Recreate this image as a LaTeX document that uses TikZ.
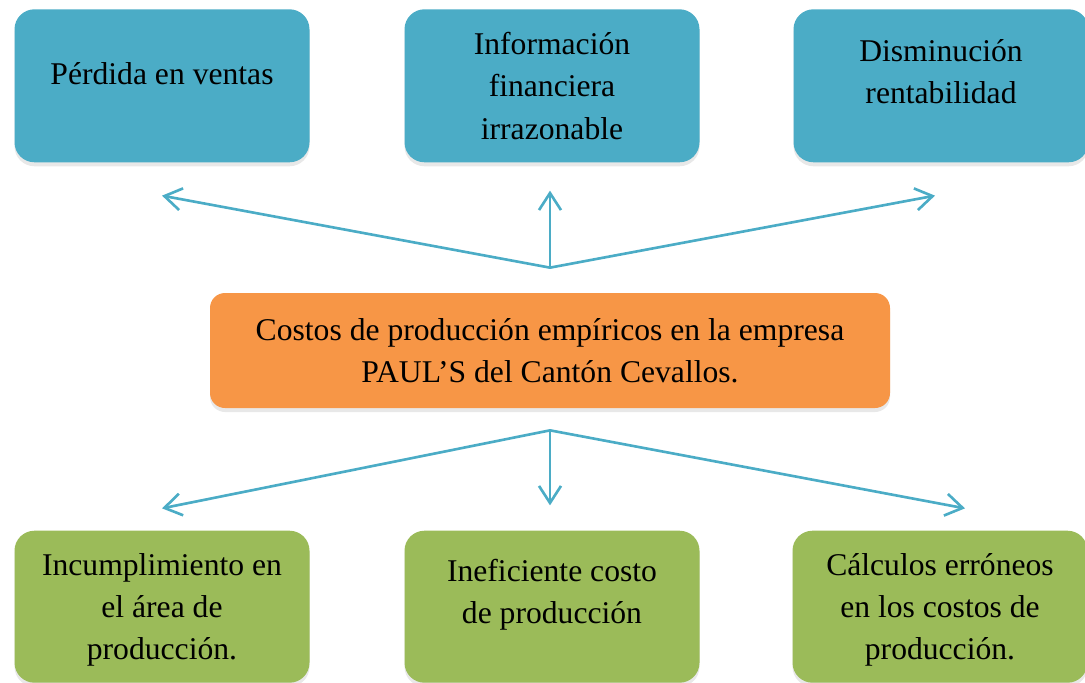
\documentclass[tikz,border=0pt]{standalone}
\usepackage{fontspec}
\setmainfont{Liberation Serif}
\usepackage{tikz}
\usetikzlibrary{shapes.misc, arrows.meta, positioning, calc, shadows}
\definecolor{effblue}{HTML}{4BACC6}
\definecolor{causeorange}{HTML}{F79646}
\definecolor{rootgreen}{HTML}{9BBB59}
\tikzset{
  box/.style={rectangle,rounded corners=0.4cm,draw=none,align=center,
    font=\fontsize{18}{24}\selectfont,
    drop shadow={opacity=0.18,shadow xshift=0cm,shadow yshift=-0.08cm}},
  effect/.style={box,fill=effblue,minimum width=5.9cm,minimum height=3.06cm},
  cause/.style={box,fill=causeorange,rounded corners=0.3cm,minimum width=13.6cm,minimum height=2.3cm},
  origin/.style={box,fill=rootgreen,minimum width=5.9cm,minimum height=3.04cm},
  link/.style={draw=effblue,line width=1.5pt,-{Straight Barb[length=3.4mm,width=4.4mm]}},
}
\begin{document}
\begin{tikzpicture}
	    \useasboundingbox (0,0) rectangle (21.7,13.64);
	    \node[cause] (P) at (11.0,6.63) {Costos de producción empíricos en la empresa\\PAUL’S del Cantón Cevallos.};
	    \node[effect,text depth=0.48cm,above=2.6cm of P,xshift=-7.76cm] (E1) {Pérdida en ventas};
	    \node[effect,text depth=-0.14cm,above=2.6cm of P,xshift=0.04cm]  (E2) {Información\\financiera\\irrazonable};
	    \node[effect,text depth=0.58cm,above=2.6cm of P,xshift=7.82cm]  (E3) {Disminución\\rentabilidad};
	    \node[origin,text depth=0cm,below=2.44cm of P,xshift=-7.76cm] (C1) {Incumplimiento en\\el área de\\producción.};
	    \node[origin,text depth=0.62cm,below=2.44cm of P,xshift=0.04cm]  (C2) {Ineficiente costo\\de producción};
	    \node[origin,text depth=-0.12cm,below=2.44cm of P,xshift=7.8cm]   (C3) {Cálculos erróneos\\en los costos de\\producción.};
	    \coordinate[above=0.5cm of P]  (hubup);
	    \coordinate[below=0.44cm of P] (hubdown);
	    \coordinate[below=0.66cm of E1] (e1);
	    \coordinate[below=0.56cm of E2,xshift=-0.04cm] (e2);
	    \coordinate[below=0.66cm of E3,xshift=-0.12cm] (e3);
	    \coordinate[above=0.44cm of C1] (c1);
	    \coordinate[above=0.5cm of C2,xshift=-0.04cm] (c2);
	    \coordinate[above=0.44cm of C3,xshift=0.5cm] (c3);
	    \draw[link] (hubup) -- (e1);
	    \draw[link] (hubup) -- (e2);
	    \draw[link] (hubup) -- (e3);
	    \draw[link] (hubdown) -- (c1);
	    \draw[link] (hubdown) -- (c2);
	    \draw[link] (hubdown) -- (c3);
	\end{tikzpicture}
\end{document}
